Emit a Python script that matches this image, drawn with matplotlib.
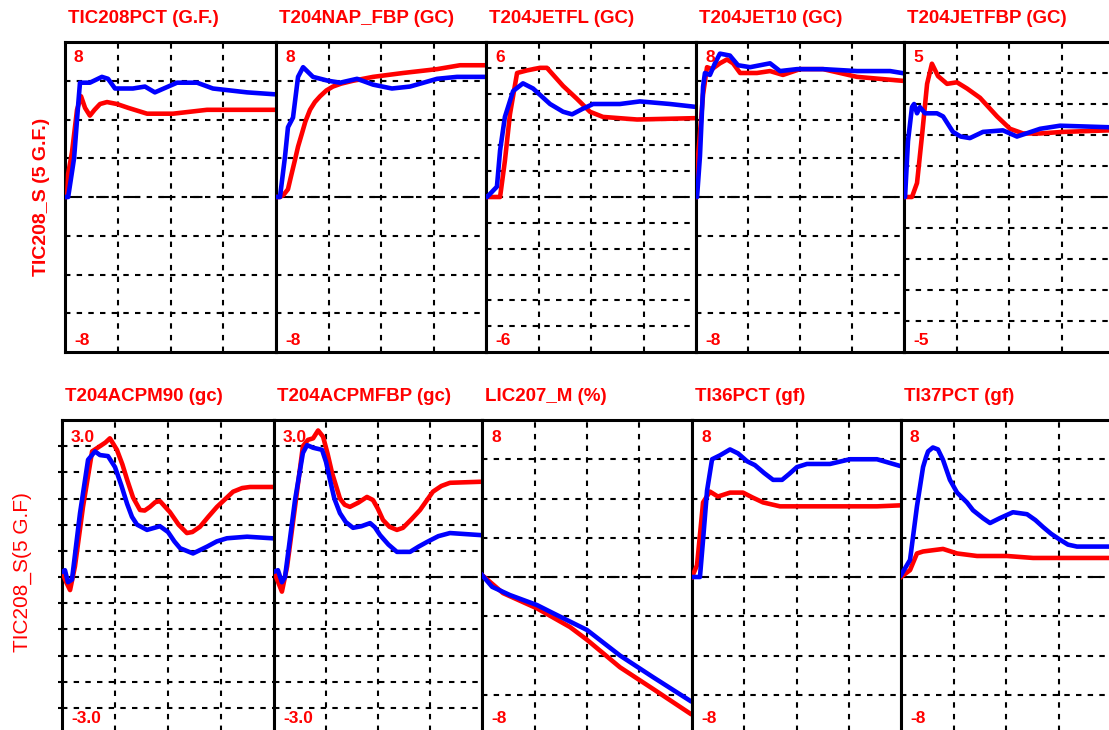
import matplotlib.pyplot as plt

plt.rcParams['font.family'] = ['Liberation Sans', 'DejaVu Sans']

RED = '#ff0000'
BLUE = '#0000ff'
W, H = 1109, 730

# ---- top row (x in % of trend window) ----
titles_top = ['TIC208PCT (G.F.)', 'T204NAP_FBP (GC)', 'T204JETFL (GC)',
              'T204JET10 (GC)', 'T204JETFBP (GC)']
lims_top = [8, 8, 6, 8, 5]
steps_top = [2, 2, 1, 2, 1]
hi_top = ['8', '8', '6', '8', '5']
lo_top = ['-8', '-8', '-6', '-8', '-5']

t1_red_x = [0, 1.0, 1.5, 3.3, 5.7, 7.6, 9.5, 11.8, 14.0, 16.6, 19.9, 24.6, 30.0, 38.9, 51.2, 67.3, 99.5]
t1_red_y = [0, 0, 1.2, 2.3, 4.5, 5.2, 4.6, 4.2, 4.5, 4.8, 4.9, 4.8, 4.6, 4.3, 4.3, 4.5, 4.5]
t1_blue_x = [0, 1.5, 4.3, 6.2, 7.1, 11.8, 17.5, 20.4, 23.7, 32.2, 37.9, 42.6, 53.1, 62.6, 70.1, 86.3, 99.5]
t1_blue_y = [0, 0, 2.0, 4.7, 5.9, 5.9, 6.2, 6.1, 5.6, 5.6, 5.7, 5.4, 5.9, 5.9, 5.6, 5.4, 5.3]

t2_red_x = [0, 1.9, 3.5, 5.7, 7.0, 9.0, 10.5, 12.4, 14.0, 16.2, 18.5, 21.0, 24.0, 27.1, 31.0, 36.7, 46.2, 60.5, 76.7, 87.6, 98.6]
t2_red_y = [0, 0, 0.1, 0.4, 1.0, 1.9, 2.6, 3.3, 3.9, 4.5, 4.9, 5.2, 5.5, 5.7, 5.85, 6.0, 6.2, 6.4, 6.6, 6.8, 6.8]
t2_blue_x = [0, 1.9, 4.3, 5.7, 8.1, 10.5, 12.9, 17.6, 24.8, 30.5, 38.6, 46.2, 55.2, 63.8, 76.7, 86.2, 98.6]
t2_blue_y = [0, 0, 2.1, 3.6, 4.1, 6.2, 6.7, 6.2, 6.0, 5.9, 6.1, 5.8, 5.6, 5.7, 6.1, 6.2, 6.2]

t3_red_x = [0, 6.7, 9.0, 11.4, 14.8, 19.5, 25.7, 29.0, 36.7, 43.3, 49.5, 55.7, 71.9, 98.6]
t3_red_y = [0, 0, 1.4, 3.2, 4.8, 4.9, 5.0, 5.0, 4.3, 3.8, 3.3, 3.1, 3.0, 3.05]
t3_blue_x = [0, 0.5, 5.2, 6.7, 9.0, 12.9, 17.6, 22.4, 30.5, 36.7, 41.0, 45.7, 51.0, 63.8, 73.3, 87.6, 98.6]
t3_blue_y = [0, 0, 0.4, 1.8, 3.1, 4.1, 4.4, 4.2, 3.6, 3.3, 3.2, 3.4, 3.6, 3.6, 3.7, 3.6, 3.5]

t4_red_x = [0, 1.0, 3.4, 5.3, 7.7, 11.5, 14.9, 17.8, 21.2, 29.3, 35.6, 41.8, 50.0, 61.1, 77.4, 99.0]
t4_red_y = [0, 2.1, 5.3, 6.7, 6.6, 6.9, 7.1, 6.9, 6.4, 6.4, 6.5, 6.3, 6.6, 6.6, 6.2, 6.0]
t4_blue_x = [0, 0.5, 1.9, 3.4, 4.3, 6.7, 9.1, 11.5, 16.3, 20.2, 26.0, 35.6, 40.4, 48.6, 61.1, 77.4, 93.3, 99.0]
t4_blue_y = [0, 0, 2.1, 5.7, 6.4, 6.3, 6.9, 7.4, 7.3, 6.8, 6.7, 6.9, 6.5, 6.6, 6.6, 6.5, 6.5, 6.4]

t5_red_x = [0, 3.8, 6.2, 8.6, 11.0, 13.3, 16.2, 20.5, 25.2, 30.0, 36.2, 44.3, 50.5, 56.7, 64.8, 75.7, 97.6]
t5_red_y = [0, 0, 0.45, 2.0, 3.65, 4.3, 3.9, 3.65, 3.7, 3.5, 3.2, 2.6, 2.2, 2.05, 2.05, 2.1, 2.15]
t5_blue_x = [0, 0.5, 1.9, 3.8, 4.8, 6.2, 7.6, 10.0, 15.7, 18.6, 23.3, 27.0, 31.4, 37.6, 47.1, 53.8, 64.8, 74.3, 97.6]
t5_blue_y = [0, 0, 1.8, 2.9, 3.0, 2.7, 2.9, 2.7, 2.7, 2.6, 2.1, 1.95, 1.9, 2.1, 2.15, 1.95, 2.2, 2.3, 2.25]

# ---- bottom row ----
titles_bot = ['T204ACPM90 (gc)', 'T204ACPMFBP (gc)', 'LIC207_M (%)',
              'TI36PCT (gf)', 'TI37PCT (gf)']
lims_bot = [3, 3, 8, 8, 8]
steps_bot = [0.5, 0.5, 2, 2, 2]
hi_bot = ['3.0', '3.0', '8', '8', '8']
lo_bot = ['-3.0', '-3.0', '-8', '-8', '-8']

b1_red_x = [0, 2.0, 3.8, 6.1, 9.9, 14.2, 17.9, 20.5, 22.6, 25.9, 28.5, 30.7, 33.5, 36.8, 39.0, 41.5, 44.0, 46.2, 50.9, 55.0, 58.9, 61.5, 65.1, 69.0, 73.1, 80.7, 85.0, 88.7, 99.1]
b1_red_y = [0.1, -0.1, -0.25, 0.2, 1.34, 2.4, 2.5, 2.57, 2.65, 2.43, 2.15, 1.86, 1.52, 1.28, 1.27, 1.34, 1.43, 1.45, 1.24, 1.0, 0.84, 0.86, 0.96, 1.15, 1.34, 1.63, 1.7, 1.72, 1.72]
b1_blue_x = [0, 1.4, 2.8, 4.7, 8.5, 12.3, 15.6, 17.9, 21.7, 25.0, 28.0, 30.7, 33.0, 35.4, 40.1, 46.2, 50.0, 53.0, 55.7, 61.8, 68.4, 73.0, 77.8, 87.3, 99.1]
b1_blue_y = [0.1, 0.13, -0.1, -0.05, 1.22, 2.24, 2.4, 2.33, 2.31, 2.1, 1.75, 1.4, 1.15, 1.0, 0.9, 0.97, 0.86, 0.68, 0.55, 0.45, 0.58, 0.68, 0.74, 0.77, 0.74]

b2_red_x = [0, 3.8, 6.3, 10.1, 13.9, 16.3, 18.8, 21.2, 23.6, 25.8, 27.9, 31.7, 34.0, 36.5, 40.5, 44.7, 47.6, 50.0, 52.4, 55.5, 59.1, 62.0, 66.0, 70.2, 76.4, 80.5, 84.6, 99.5]
b2_red_y = [0.1, -0.28, 0.2, 1.34, 2.5, 2.62, 2.65, 2.8, 2.68, 2.35, 1.99, 1.5, 1.38, 1.34, 1.42, 1.53, 1.47, 1.3, 1.09, 0.96, 0.9, 0.94, 1.1, 1.28, 1.63, 1.74, 1.8, 1.82]
b2_blue_x = [0, 1.9, 3.8, 5.3, 10.1, 13.9, 15.9, 18.8, 23.1, 25.0, 26.9, 29.0, 31.7, 34.5, 38.0, 42.0, 46.2, 48.5, 51.0, 55.0, 59.1, 65.4, 69.5, 73.6, 79.0, 84.6, 99.5]
b2_blue_y = [0.1, 0.13, -0.1, 0, 1.47, 2.37, 2.52, 2.47, 2.43, 2.2, 1.86, 1.5, 1.22, 1.05, 0.94, 0.97, 1.03, 0.95, 0.8, 0.62, 0.48, 0.48, 0.58, 0.67, 0.78, 0.84, 0.8]

b3_red_x = [0, 10.0, 26.2, 41.9, 50.0, 65.7, 81.4, 99.0]
b3_red_y = [0.1, -0.82, -1.6, -2.55, -3.2, -4.6, -5.7, -6.95]
b3_blue_x = [0, 4.8, 13.3, 26.2, 33.8, 50.0, 65.7, 81.4, 99.0]
b3_blue_y = [0.1, -0.5, -0.92, -1.43, -1.84, -2.7, -4.0, -5.1, -6.3]

b4_red_x = [0, 2.4, 5.3, 8.6, 12.4, 18.2, 24.4, 29.0, 34.0, 42.1, 62.7, 88.5, 99.5]
b4_red_y = [0, 0.6, 3.8, 4.35, 4.1, 4.3, 4.3, 4.05, 3.8, 3.6, 3.6, 3.6, 3.65]
b4_blue_x = [0, 3.8, 5.3, 7.2, 9.6, 13.4, 18.2, 22.0, 26.3, 30.1, 34.5, 38.8, 43.1, 46.5, 50.2, 55.0, 66.0, 75.6, 88.5, 99.5]
b4_blue_y = [0, 0, 1.9, 4.4, 6.0, 6.2, 6.5, 6.3, 5.9, 5.7, 5.3, 4.95, 4.95, 5.25, 5.6, 5.76, 5.76, 6.0, 6.0, 5.66]

b5_red_x = [0, 4.3, 7.6, 10.5, 20.0, 26.7, 36.2, 50.5, 62.9, 99.0]
b5_red_y = [0, 0.35, 1.2, 1.3, 1.43, 1.2, 1.07, 1.07, 0.97, 0.97]
b5_blue_x = [0, 4.3, 7.6, 10.5, 11.9, 12.9, 15.2, 17.6, 20.0, 23.3, 26.7, 31.4, 34.3, 39.0, 42.4, 47.1, 53.3, 60.0, 64.0, 67.6, 71.5, 75.7, 79.5, 83.8, 99.0]
b5_blue_y = [0.1, 0.87, 3.6, 5.6, 6.1, 6.4, 6.6, 6.5, 5.97, 4.95, 4.3, 3.8, 3.4, 3.0, 2.75, 3.0, 3.3, 3.2, 2.9, 2.55, 2.2, 1.9, 1.65, 1.55, 1.55]

reds_top = [(t1_red_x, t1_red_y), (t2_red_x, t2_red_y), (t3_red_x, t3_red_y), (t4_red_x, t4_red_y), (t5_red_x, t5_red_y)]
blues_top = [(t1_blue_x, t1_blue_y), (t2_blue_x, t2_blue_y), (t3_blue_x, t3_blue_y), (t4_blue_x, t4_blue_y), (t5_blue_x, t5_blue_y)]
reds_bot = [(b1_red_x, b1_red_y), (b2_red_x, b2_red_y), (b3_red_x, b3_red_y), (b4_red_x, b4_red_y), (b5_red_x, b5_red_y)]
blues_bot = [(b1_blue_x, b1_blue_y), (b2_blue_x, b2_blue_y), (b3_blue_x, b3_blue_y), (b4_blue_x, b4_blue_y), (b5_blue_x, b5_blue_y)]


def px_axes(fig, left, top, width, height):
    return fig.add_axes([left / W, 1 - (top + height) / H, width / W, height / H])


def trend_panel(ax, lim, step, red, blue):
    ax.set_xlim(0, 100)
    ax.set_ylim(-lim, lim)
    n = int(round(lim / step))
    ax.set_yticks([i * step for i in range(-n + 1, n)])
    ax.set_xticks([25, 50, 75])
    ax.tick_params(length=0, labelleft=False, labelbottom=False)
    ax.grid(True, color='black', lw=1.5, linestyle=(0, (2.6, 3.0)))
    ax.set_axisbelow(True)
    ax.axhline(0, color='black', lw=1.5, linestyle=(0, (6, 9)), zorder=1)
    ax.plot(red[0], red[1], color=RED, lw=3.3, solid_joinstyle='round', zorder=3)
    ax.plot(blue[0], blue[1], color=BLUE, lw=3.3, solid_joinstyle='round', zorder=4)
    for s in ax.spines.values():
        s.set_linewidth(2.2)
        s.set_color('black')


fig = plt.figure(figsize=(W / 100, H / 100), dpi=100)

rows = [
    dict(lefts=[65, 276, 486, 696, 904], widths=[211, 210, 210, 208, 210], top=42, height=310,
         titles=titles_top, lims=lims_top, steps=steps_top, hi=hi_top, lo=lo_top,
         reds=reds_top, blues=blues_top, title_base=23, hi_base=62, lo_base=345),
    dict(lefts=[62, 274, 482, 692, 901], widths=[212, 208, 210, 209, 210], top=420, height=314,
         titles=titles_bot, lims=lims_bot, steps=steps_bot, hi=hi_bot, lo=lo_bot,
         reds=reds_bot, blues=blues_bot, title_base=401, hi_base=442, lo_base=723),
]

for r, row in enumerate(rows):
    for i in range(5):
        left = row['lefts'][i]
        ax = px_axes(fig, left, row['top'], row['widths'][i], row['height'])
        trend_panel(ax, row['lims'][i], row['steps'][i], row['reds'][i], row['blues'][i])
        if r == 1 and i == 0:
            ax.tick_params(axis='y', left=True, length=3, width=1.5, direction='out')
        fig.text((left + 3) / W, 1 - row['title_base'] / H, row['titles'][i],
                 color=RED, fontsize=13.5, fontweight='bold', va='baseline', ha='left')
        fig.text((left + 9) / W, 1 - row['hi_base'] / H, row['hi'][i],
                 color=RED, fontsize=12.5, fontweight='bold', va='baseline', ha='left')
        fig.text((left + 9) / W, 1 - row['lo_base'] / H, row['lo'][i],
                 color=RED, fontsize=12.5, fontweight='bold', va='baseline', ha='left')

fig.text(42 / W, 1 - 197 / H, 'TIC208_S (5 G.F.)', color=RED, fontsize=14,
         fontweight='bold', rotation=90, ha='center', va='center')
fig.text(22 / W, 1 - 572 / H, 'TIC208_S(5 G.F)', color=RED, fontsize=15,
         rotation=90, ha='center', va='center')

fig.savefig('out.png', dpi=100)
